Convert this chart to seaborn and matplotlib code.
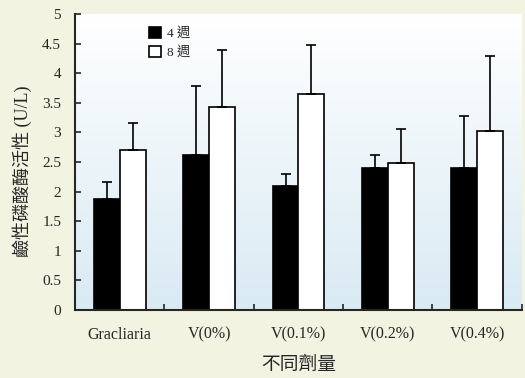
import seaborn as sns
import matplotlib.pyplot as plt
import matplotlib.colors as mcolors
import pandas as pd
import numpy as np

# Werte
groups = ['Gracliaria', 'V(0%)', 'V(0.1%)', 'V(0.2%)', 'V(0.4%)']
weeks = ['4 週', '8 週']
mean_4w = [1.88, 2.62, 2.10, 2.40, 2.40]
mean_8w = [2.70, 3.43, 3.64, 2.48, 3.02]
err_4w = [0.29, 1.17, 0.20, 0.22, 0.87]
err_8w = [0.46, 0.97, 0.83, 0.58, 1.27]
y_ticks = [0, 0.5, 1, 1.5, 2, 2.5, 3, 3.5, 4, 4.5, 5]

sns.set_style("ticks")
plt.rcParams['font.family'] = ['Liberation Serif', 'Noto Sans CJK TC']

data = pd.DataFrame({
    'group': groups * 2,
    'week': [weeks[0]] * 5 + [weeks[1]] * 5,
    'value': mean_4w + mean_8w,
    'err': err_4w + err_8w,
})

fig = plt.figure(figsize=(5.25, 3.78), dpi=100, facecolor='#f3f3e2')
ax = fig.add_axes([0.143, 0.180, 0.851, 0.783])

# Hintergrundverlauf: oben weiss, unten hellblau
grad = np.linspace(0, 1, 256).reshape(-1, 1)
cmap = mcolors.LinearSegmentedColormap.from_list('bg', ['#d9eaf3', '#ffffff'])
ax.imshow(grad, extent=(-0.5, 4.5, 0, 5), origin='lower', aspect='auto', cmap=cmap, zorder=0)

sns.barplot(data=data, x='group', y='value', hue='week', order=groups, hue_order=weeks,
            palette={weeks[0]: 'black', weeks[1]: 'white'}, edgecolor='black', linewidth=1.2,
            width=0.58, gap=0, errorbar=None, ax=ax, zorder=2)

# Fehlerbalken nur nach oben
for cont, errs in zip(ax.containers, [err_4w, err_8w]):
    for bar, e in zip(cont, errs):
        xc = bar.get_x() + bar.get_width() / 2
        h = bar.get_height()
        ax.errorbar(xc, h, yerr=[[0], [e]], fmt='none', ecolor='black',
                    elinewidth=1.2, capsize=3.5, capthick=1.2, zorder=3)

ax.set_xlim(-0.5, 4.5)
ax.set_ylim(0, 5)
ax.set_yticks(y_ticks)
ax.set_yticklabels([f'{t:g}' for t in y_ticks])
ax.set_xticks(range(5))
ax.set_xticklabels(groups)
ax.set_xticks(np.arange(-0.5, 4.6, 1), minor=True)
ax.tick_params(axis='x', which='major', length=0, pad=12, labelsize=11.5)
ax.tick_params(axis='x', which='minor', direction='in', length=4, width=1.2)
ax.tick_params(axis='y', direction='in', length=4, width=1.2, labelsize=11, pad=10)

for s in ['top', 'right']:
    ax.spines[s].set_visible(False)
for s in ['left', 'bottom']:
    ax.spines[s].set_linewidth(1.5)

ax.set_xlabel('不同劑量', fontsize=13.5, va='center')
ax.xaxis.set_label_coords(0.5, -0.186)
ax.set_ylabel('鹼性磷酸酶活性 (U/L)', fontsize=13, va='center')
ax.yaxis.set_label_coords(-0.119, 0.47)

ax.legend(loc='upper left', bbox_to_anchor=(0.14, 0.995), frameon=False, fontsize=9.5,
          handlelength=0.85, handleheight=0.85, handletextpad=0.5, labelspacing=0.45)

fig.savefig('out.png', dpi=100, facecolor=fig.get_facecolor())
